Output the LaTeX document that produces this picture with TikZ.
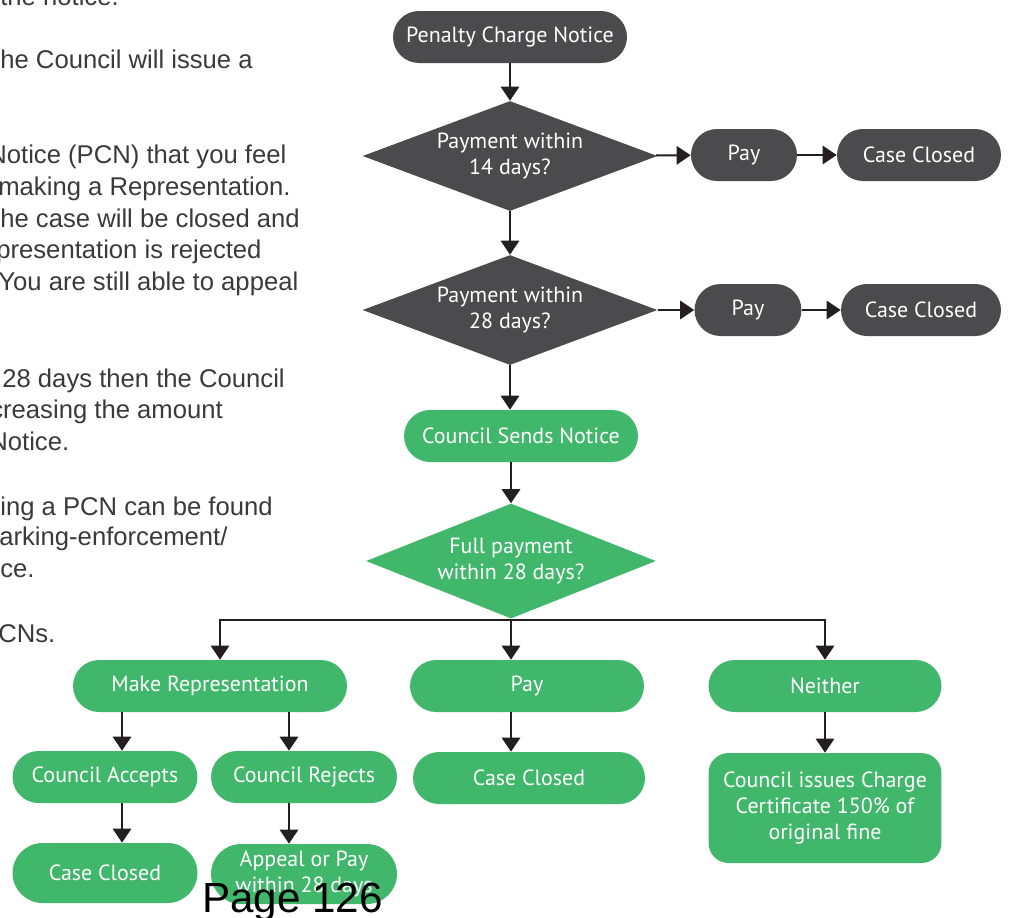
\documentclass[tikz,border=0pt]{standalone}
\usepackage{fontspec}
\setmainfont{Liberation Sans}
\newfontfamily\flowfont{PT Sans}
\usetikzlibrary{shapes.geometric, arrows.meta}

\definecolor{flowgray}{HTML}{4B4B4D}
\definecolor{flowgreen}{HTML}{40B76B}
\definecolor{bodytext}{HTML}{3A3A3A}
\definecolor{arrowink}{HTML}{231F20}

\begin{document}
\begin{tikzpicture}[
    x=0.02cm,
    y=-0.02cm,
    every node/.style={font=\flowfont\fontsize{12.5}{15}\selectfont},
    graybox/.style={
        rectangle,
        rounded corners=0.52cm,
        fill=flowgray,
        text=white,
        minimum height=1.04cm,
        inner sep=2pt,
        align=center
    },
    greenbox/.style={
        rectangle,
        rounded corners=0.52cm,
        fill=flowgreen,
        text=white,
        minimum height=1.04cm,
        inner sep=2pt,
        align=center
    },
    graydecision/.style={
        diamond,
        aspect=2.7,
        fill=flowgray,
        text=white,
        minimum width=5.9cm,
        minimum height=2.2cm,
        inner sep=0pt,
        align=center
    },
    greendecision/.style={
        diamond,
        aspect=2.7,
        fill=flowgreen,
        text=white,
        minimum width=5.8cm,
        minimum height=2.3cm,
        inner sep=0pt,
        align=center
    },
    arrow/.style={
        -{Triangle[width=10.5pt,length=8pt]},
        line width=1.1pt,
        draw=arrowink
    },
    bodyline/.style={
        anchor=base west,
        inner sep=0pt,
        text=bodytext,
        font=\fontsize{14.6}{18}\selectfont
    }
]
\useasboundingbox (0,0) rectangle (1014,917);
\clip (0,0) rectangle (1014,917);

% ============================================
% Left column: running text cut by the page
% ============================================
\node[bodyline] (txtA) at (0,5) {the notice.};
\node[bodyline] (txtB) at (0,68) {he Council will issue a};
\node[bodyline] (txtC) at (-12,163) {Notice (PCN) that you feel};
\node[bodyline] (txtD) at (-2,195) {making a Representation.};
\node[bodyline] (txtE) at (0,227) {he case will be closed and};
\node[bodyline] (txtF) at (-4,258) {presentation is rejected};
\node[bodyline] (txtG) at (-2,290) {You are still able to appeal};
\node[bodyline] (txtH) at (2,387) {28 days then the Council};
\node[bodyline] (txtI) at (-10,418) {creasing the amount};
\node[bodyline] (txtJ) at (-11,450) {Notice.};
\node[bodyline] (txtK) at (0,515) {ing a PCN can be found};
\node[bodyline] (txtL) at (-1,545) {arking-enforcement/};
\node[bodyline] (txtM) at (0,577) {ce.};
\node[bodyline] (txtN) at (-2,642) {CNs.};

% ============================================
% Top: grey part of the flow
% ============================================
\node[graybox, minimum width=4.68cm] (pcn) at (510,37) {Penalty Charge Notice};

\node[graydecision] (dec14) at (510,156) {Payment within\\14 days?};
\node[graybox, minimum width=2.12cm] (payA) at (744,155) {Pay};
\node[graybox, minimum width=3.28cm] (closedA) at (919,155) {Case Closed};

\node[graydecision] (dec28) at (510,310) {Payment within\\28 days?};
\node[graybox, minimum width=2.14cm] (payB) at (748,310) {Pay};
\node[graybox, minimum width=3.2cm] (closedB) at (921,310) {Case Closed};

\draw[arrow] (pcn) -- (dec14);
\draw[arrow] (dec14) -- (payA);
\draw[arrow] (payA) -- (closedA);
\draw[arrow] (dec14) -- (dec28);
\draw[arrow] (dec28) -- (payB);
\draw[arrow] (payB) -- (closedB);

% ============================================
% Middle: council notice
% ============================================
\node[greenbox, minimum width=4.68cm] (notice) at (521,436) {Council Sends Notice};
\node[greendecision] (decfull) at (511,561) {Full payment\\within 28 days?};

\draw[arrow] (dec28.south) -- (notice.north -| dec28.south);
\draw[arrow] (notice.south -| decfull.north) -- (decfull.north);

% ============================================
% Bottom: three outcomes
% ============================================
\coordinate (hub) at (511,620);
\coordinate (hubL) at (220,620);
\coordinate (accX) at (122,0);
\coordinate (rejX) at (289,0);

\node[greenbox, minimum width=5.48cm] (mkrep) at (210,686) {Make Representation};
\node[greenbox, minimum width=4.68cm] (payC) at (527,686) {Pay};
\node[greenbox, minimum width=4.66cm] (neither) at (825,686) {Neither};

\node[greenbox, minimum width=3.7cm] (accept) at (105,777) {Council Accepts};
\node[greenbox, minimum width=3.72cm] (reject) at (304,777) {Council Rejects};
\node[greenbox, minimum width=4.64cm] (closedC) at (529,778) {Case Closed};
\node[greenbox, minimum width=4.66cm, minimum height=2.2cm, rounded corners=0.4cm] (certificate) at (825,808) {Council issues Charge\\Certificate 150\% of\\original fine};

\node[greenbox, minimum width=3.7cm, minimum height=1.2cm, rounded corners=0.6cm] (closedD) at (105,873) {Case Closed};
\node[greenbox, minimum width=3.72cm, minimum height=1.2cm, rounded corners=0.6cm] (appeal) at (304,874) {Appeal or Pay\\within 28 days};

\draw[line width=1.1pt, draw=arrowink] (decfull.south) -- (hub);
\draw[arrow] (hub) -| (mkrep.north -| hubL);
\draw[arrow] (hub) -| (neither.north);
\draw[arrow] (hub) -- (payC.north -| hub);
\draw[arrow] (payC.south -| hub) -- (closedC.north -| hub);
\draw[arrow] (neither) -- (certificate);

\draw[arrow] (mkrep.south -| accX) -- (accept.north -| accX);
\draw[arrow] (mkrep.south -| rejX) -- (reject.north -| rejX);
\draw[arrow] (accept.south -| accX) -- (closedD.north -| accX);
\draw[arrow] (reject.south -| rejX) -- (appeal.north -| rejX);

% page number over the last box
\node[anchor=base west, inner sep=0pt, text=black, font=\fontsize{24}{28}\selectfont] (pageno) at (202,912) {Page 126};

\end{tikzpicture}
\end{document}
